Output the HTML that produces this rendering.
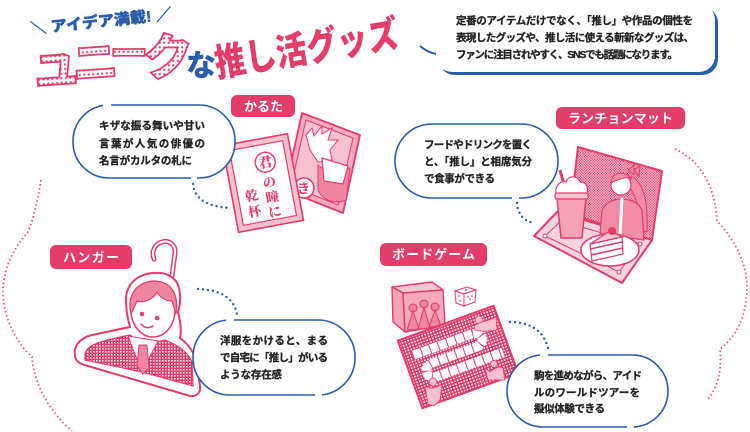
<!DOCTYPE html>
<html><head><meta charset="utf-8">
<style>
html,body{margin:0;padding:0;background:#fff;}
svg{display:block;}
text{font-family:"Liberation Sans","Noto Sans CJK JP",sans-serif;}
.bt{font-size:10.5px;font-weight:700;fill:#222;stroke:#222;stroke-width:0.3;}
.lb{font-size:13px;font-weight:700;fill:#fff;}
.serif{font-family:"Liberation Serif","Noto Serif CJK SC",serif;font-weight:900;fill:#e43d69;}
</style></head><body>
<svg width="750" height="432" viewBox="0 0 750 432" xmlns="http://www.w3.org/2000/svg">
<defs>
 <pattern id="dots" width="4.5" height="4.5" patternUnits="userSpaceOnUse"><rect width="4.5" height="4.5" fill="#fff"/><circle cx="2.25" cy="2.25" r="1.1" fill="#e43d69"/></pattern>
 <pattern id="chk" width="3" height="3" patternUnits="userSpaceOnUse"><rect width="3" height="3" fill="#e43d69"/><rect width="1.5" height="1.5" fill="#fff"/></pattern>
 <pattern id="chkL" width="2.6" height="2.6" patternUnits="userSpaceOnUse"><rect width="2.6" height="2.6" fill="#e43d69"/><rect width="1.3" height="1.3" fill="#f9d3de"/><rect x="1.3" y="1.3" width="1.3" height="1.3" fill="#f9d3de"/></pattern>
</defs>

<!-- pink dotted cloud arcs -->
<g fill="none" stroke="#e8537a" stroke-width="1.8" stroke-dasharray="1.5 2.6">
 <path d="M41,180 C38,200 33,220 28,232 C12,250 2,272 3,295 C4,320 18,345 32,357 C34,385 50,412 72,431"/>
 <path d="M675,149 C695,158 715,180 717,221 C735,240 748,265 747,290 C746,315 738,335 720,349 C722,370 718,388 707,400"/>
</g>

<!-- Title -->
<text transform="translate(31,34) rotate(-6)" font-size="15" font-weight="900" fill="#2a5ba8" stroke="#2a5ba8" stroke-width="0.4" textLength="142" lengthAdjust="spacingAndGlyphs">＼ アイデア満載! ／</text>
<g font-weight="900" fill="url(#dots)" stroke="#e43d69" stroke-width="1.8" stroke-linejoin="round">
 <text x="34" y="86" font-size="44" transform="rotate(-4 54 70)">ユ</text>
 <text x="72" y="79" font-size="46" transform="rotate(-4 92 60)">ニ</text>
 <text x="110" y="67" font-size="38">ー</text>
 <text x="143" y="75" font-size="50">ク</text>
</g>
<text x="186" y="76" font-size="30" font-weight="900" fill="#2a5ba8">な</text>
<text transform="translate(217,77) rotate(-9.5)" font-size="38" font-weight="900" fill="#e43d69" textLength="186" lengthAdjust="spacingAndGlyphs">推し活グッズ</text>

<!-- Description box -->
<path d="M420,46 Q427,52 436,54" fill="none" stroke="#2a5ba8" stroke-width="2"/>
<rect x="439" y="7" width="279" height="68" rx="16" fill="#2a5ba8"/>
<rect x="436" y="4" width="279" height="68" rx="16" fill="#fff"/>
<text class="bt" x="456" y="24" font-size="10" textLength="237">定番のアイテムだけでなく、「推し」や作品の個性を</text>
<text class="bt" x="456" y="41" font-size="10" textLength="238">表現したグッズや、推し活に使える斬新なグッズは、</text>
<text class="bt" x="456" y="58" font-size="10" textLength="222">ファンに注目されやすく、SNSでも話題になります。</text>

<!-- ===== Karuta ===== -->
<rect x="231" y="95" width="64" height="22" rx="6" fill="#e43d69"/>
<text class="lb" x="244" y="111" textLength="39">かるた</text>

<!-- back card -->
<polygon points="302,113 360,135 343,213 285,190" fill="#f4a9bd" stroke="#e43d69" stroke-width="1.8" stroke-linejoin="round"/>
<polygon points="306,120 353,138 338,205 291,186" fill="#f7c0cf" stroke="#e43d69" stroke-width="1"/>
<path d="M306,135 L312,128 L314,136 L322,126 L322,134 L332,128 L328,140 L338,140 L330,150 L332,160 L318,162 L310,150 Z" fill="#fff" stroke="#e43d69" stroke-width="1"/>
<path d="M318,165 C328,175 340,170 350,168 L346,200 C335,205 322,200 318,190 Z" fill="#ef85a1" stroke="#e43d69" stroke-width="1"/>
<polygon points="322,158 348,166 343,184 324,181" fill="#fff" stroke="#e43d69" stroke-width="1.2"/>
<circle cx="304" cy="188" r="10" fill="#fff" stroke="#e43d69" stroke-width="1.5"/>
<text x="297" y="193" font-size="13" font-weight="700" fill="#e43d69">き</text>

<!-- front card -->
<g transform="translate(263,183) rotate(-10.5)">
 <rect x="-33" y="-44" width="66" height="88" fill="#f6c0cf" stroke="#e43d69" stroke-width="1.6"/>
 <rect x="-27" y="-38" width="54" height="76" fill="#fff" stroke="#e43d69" stroke-width="1.2"/>
 <circle cx="6" cy="-20" r="10" fill="#fff" stroke="#e43d69" stroke-width="1.4"/>
 <text class="serif" x="-1" y="-15" font-size="14">君</text>
 <text class="serif" x="0" y="5" font-size="13">の</text>
 <text class="serif" x="0" y="20" font-size="13">瞳</text>
 <text class="serif" x="0" y="35" font-size="13">に</text>
 <text class="serif" x="-20" y="15" font-size="13">乾</text>
 <text class="serif" x="-20" y="31" font-size="13">杯</text>
</g>

<!-- bubble karuta -->
<rect x="73" y="105" width="162" height="73" rx="36" fill="#fff" stroke="#2a5ba8" stroke-width="1.6"/>
<rect x="103" y="102" width="8" height="6" fill="#fff"/>
<rect x="191" y="175" width="6" height="6" fill="#fff"/>
<text class="bt" x="99" y="129" textLength="106">キザな振る舞いや甘い</text>
<text class="bt" x="99" y="147" textLength="106">言葉が人気の俳優の</text>
<text class="bt" x="99" y="164" textLength="93">名言がカルタの札に</text>
<path d="M193,184 Q195,206 230,208" fill="none" stroke="#2a5ba8" stroke-width="2.4" stroke-linecap="round" stroke-dasharray="0 5"/>

<!-- ===== Hanger ===== -->
<rect x="50" y="245" width="82" height="24" rx="6" fill="#e43d69"/>
<text class="lb" x="63" y="262" textLength="56">ハンガー</text>

<path d="M172,276 L175,253 C176,244 168,240 162,242 C155,244 151,251 154,259" fill="none" stroke="#e43d69" stroke-width="5" stroke-linecap="round"/>
<path d="M172,276 L175,253 C176,244 168,240 162,242 C155,244 151,251 154,259" fill="none" stroke="#fff" stroke-width="2" stroke-linecap="round"/>
<path d="M160,273 C140,272 126,282 126,300 C126,312 128,320 130,327 L92,335 C80,338 73,346 75,356 C76,362 80,364 88,366 L190,396 C197,397 201,392 200,386 L197,366 C195,352 188,344 180,338 C182,330 180,320 178,312 C182,300 180,285 175,280 C170,275 165,273 160,273 Z" fill="#fff" stroke="#e43d69" stroke-width="2"/>
<path d="M85,354 C88,345 95,342 130,335 L145,345 L165,340 C178,345 188,352 192,362 L193,386 L142,372 L85,360 Z" fill="url(#chk)" stroke="#e43d69" stroke-width="1.2"/>
<polygon points="128,336 142,372 158,341" fill="#fff" stroke="#e43d69" stroke-width="1"/>
<path d="M139,345 L147,345 L149,368 L143,374 L137,366 Z" fill="#ef85a1" stroke="#e43d69" stroke-width="1"/>
<ellipse cx="153" cy="310" rx="22" ry="27" fill="#fff" stroke="#e43d69" stroke-width="1.5"/>
<path d="M131,314 C126,292 140,281 155,281 C171,282 179,293 176,314 L172,301 C165,301 160,297 157,292 C152,301 143,303 137,301 Z" fill="#ef85a1" stroke="#e43d69" stroke-width="1.2"/>
<circle cx="142" cy="314" r="2.3" fill="#e43d69"/>
<circle cx="157" cy="318" r="2.3" fill="#e43d69"/>
<path d="M141,324 Q146,330 153,326" fill="none" stroke="#e43d69" stroke-width="1.5" stroke-linecap="round"/>

<path d="M198,289 Q232,290 237,314" fill="none" stroke="#2a5ba8" stroke-width="2.4" stroke-linecap="round" stroke-dasharray="0 5"/>
<rect x="193" y="320" width="162" height="75" rx="37" fill="#fff" stroke="#2a5ba8" stroke-width="1.6"/>
<rect x="226" y="317" width="8" height="6" fill="#fff"/>
<rect x="315" y="392" width="7" height="6" fill="#fff"/>
<text class="bt" x="220" y="344" textLength="108">洋服をかけると、まる</text>
<text class="bt" x="220" y="361" textLength="108">で自宅に「推し」がいる</text>
<text class="bt" x="220" y="378" textLength="62">ような存在感</text>

<!-- ===== Lunch mat ===== -->
<rect x="556" y="107" width="129" height="22" rx="6" fill="#e43d69"/>
<text class="lb" x="568" y="123" textLength="105">ランチョンマット</text>

<rect x="395" y="124" width="163" height="74" rx="37" fill="#fff" stroke="#2a5ba8" stroke-width="1.6"/>
<rect x="512" y="195" width="7" height="6" fill="#fff"/>
<text class="bt" x="424" y="148" textLength="108">フードやドリンクを置く</text>
<text class="bt" x="424" y="165" textLength="108">と、「推し」と相席気分</text>
<text class="bt" x="424" y="182" textLength="71">で食事ができる</text>
<path d="M517,203 Q518,219 533,223" fill="none" stroke="#2a5ba8" stroke-width="2.4" stroke-linecap="round" stroke-dasharray="0 5"/>

<polygon points="578,147 662,171 652,240 570,214" fill="url(#chkL)" stroke="#e43d69" stroke-width="2" stroke-linejoin="round"/>
<polygon points="534,236 557,212 652,240 622,283" fill="#fbd3de" stroke="#e43d69" stroke-width="2" stroke-linejoin="round"/>
<polygon points="545,236 561,221 640,244 619,272" fill="none" stroke="#e43d69" stroke-width="1"/>
<g fill="#fff" stroke="#e43d69" stroke-width="1"><circle cx="545" cy="236" r="2"/><circle cx="561" cy="221" r="2"/><circle cx="640" cy="244" r="2"/><circle cx="619" cy="272" r="2"/></g>
<!-- girl -->
<path d="M632,176 C645,185 648,205 647,232 L640,230 C640,210 636,195 628,185 Z" fill="#f08ca6" stroke="#e43d69" stroke-width="1"/>
<path d="M600,234 L602,210 C606,202 614,199 621,199 C630,199 638,202 642,210 L644,240 Z" fill="#f08ca6" stroke="#e43d69" stroke-width="1.2"/>
<circle cx="621" cy="185" r="10" fill="#fff" stroke="#e43d69" stroke-width="1.2"/>
<path d="M611,183 C611,172 624,170 631,178 C628,177 620,178 611,183 Z" fill="#f08ca6" stroke="#e43d69" stroke-width="1"/>
<path d="M628,170 L634,165 L634,175 Z M634,170 L640,166 L639,176 Z" fill="#f08ca6" stroke="#e43d69" stroke-width="1"/>
<line x1="622" y1="198" x2="620" y2="236" stroke="#fff" stroke-width="3"/>
<!-- cup -->
<line x1="560" y1="170" x2="566" y2="192" stroke="#e43d69" stroke-width="3"/>
<path d="M557,195 C553,188 560,180 566,182 C568,175 578,175 580,182 C587,182 590,190 585,195 Z" fill="#fff" stroke="#e43d69" stroke-width="1.2"/>
<polygon points="557,198 586,198 582,238 561,238" fill="#f5a3b8" stroke="#e43d69" stroke-width="1.5"/>
<rect x="555" y="193" width="33" height="6" rx="2" fill="#f8c6d3" stroke="#e43d69" stroke-width="1.2"/>
<!-- plate & cake -->
<ellipse cx="610" cy="250" rx="29" ry="16" fill="#fff" stroke="#e43d69" stroke-width="1.5"/>
<polygon points="590,244 622,237 623,254 592,261" fill="#fff" stroke="#e43d69" stroke-width="1.2"/>
<g stroke="#e43d69" stroke-width="1.5"><line x1="590" y1="249" x2="622" y2="242"/><line x1="591" y1="255" x2="623" y2="248"/></g>
<polygon points="590,244 610,231 622,237" fill="#f8c6d3" stroke="#e43d69" stroke-width="1.2"/>
<circle cx="612" cy="231" r="4" fill="#e43d69"/>

<!-- ===== Board game ===== -->
<rect x="380" y="243" width="107" height="23" rx="6" fill="#e43d69"/>
<text class="lb" x="392" y="259" textLength="83">ボードゲーム</text>

<!-- box -->
<polygon points="392,287 432,282 443,290 403,293" fill="#f8c6d3" stroke="#e43d69" stroke-width="1.4" stroke-linejoin="round"/>
<polygon points="392,287 403,293 405,332 393,322" fill="#f5a3b8" stroke="#e43d69" stroke-width="1.4" stroke-linejoin="round"/>
<polygon points="403,293 443,290 445,325 405,332" fill="#f4a9bd" stroke="#e43d69" stroke-width="1.4" stroke-linejoin="round"/>
<g fill="#ef85a1" stroke="#e43d69" stroke-width="1">
 <circle cx="413" cy="308" r="4"/><path d="M413,311 L407,330 L419,329 Z"/>
 <circle cx="424" cy="304" r="4"/><path d="M424,307 L418,329 L430,328 Z"/>
 <circle cx="435" cy="307" r="4"/><path d="M435,310 L429,327 L441,326 Z"/>
</g>
<!-- dice -->
<polygon points="455,291 467,287 476,290 464,294" fill="#fff" stroke="#e43d69" stroke-width="1"/>
<polygon points="455,291 464,294 464,306 456,303" fill="#fff" stroke="#e43d69" stroke-width="1"/>
<polygon points="464,294 476,290 475,302 464,306" fill="#fff" stroke="#e43d69" stroke-width="1"/>
<g fill="#e43d69"><circle cx="466" cy="290" r="1"/><circle cx="459" cy="296" r="0.9"/><circle cx="460" cy="301" r="0.9"/><circle cx="468" cy="297" r="0.9"/><circle cx="470" cy="299" r="0.9"/><circle cx="472" cy="296" r="0.9"/></g>
<!-- board -->
<g transform="translate(458,357) rotate(-20)">
 <rect x="-51" y="-36" width="102" height="72" fill="url(#chk)" stroke="#e43d69" stroke-width="2"/>
 <path d="M-42,-17 L20,-17 C32,-17 32,-3 20,-3 L-26,-3 C-38,-3 -38,11 -26,11 L44,11" fill="none" stroke="#fff" stroke-width="9"/>
 <path d="M-42,-17 L20,-17 C32,-17 32,-3 20,-3 L-26,-3 C-38,-3 -38,11 -26,11 L44,11" fill="none" stroke="#e43d69" stroke-width="9" stroke-dasharray="1 8"/>
</g>
<g fill="#f7c0cf" stroke="#e43d69" stroke-width="0.8">
 <circle cx="479" cy="320" r="4"/><path d="M474,326 C478,322 486,322 496,317 L497,330 C490,331 480,332 475,330 Z"/>
 <circle cx="494" cy="364" r="3.5"/><path d="M485,368 L490,372 C495,368 500,366 503,368 L505,380 L488,380 Z"/>
 <circle cx="433" cy="382" r="4"/><path d="M425,386 C430,390 436,388 442,384 L440,400 L434,406 L428,404 Z"/>
</g>

<path d="M510,322 Q541,322 548,348" fill="none" stroke="#2a5ba8" stroke-width="2.4" stroke-linecap="round" stroke-dasharray="0 5"/>
<rect x="507" y="355" width="161" height="72" rx="36" fill="#fff" stroke="#2a5ba8" stroke-width="1.6"/>
<rect x="540" y="352" width="8" height="6" fill="#fff"/>
<rect x="627" y="424" width="7" height="6" fill="#fff"/>
<text class="bt" x="534" y="379" textLength="108">駒を進めながら、アイド</text>
<text class="bt" x="534" y="396" textLength="106">ルのワールドツアーを</text>
<text class="bt" x="534" y="412" textLength="71">擬似体験できる</text>
</svg>
</body></html>
